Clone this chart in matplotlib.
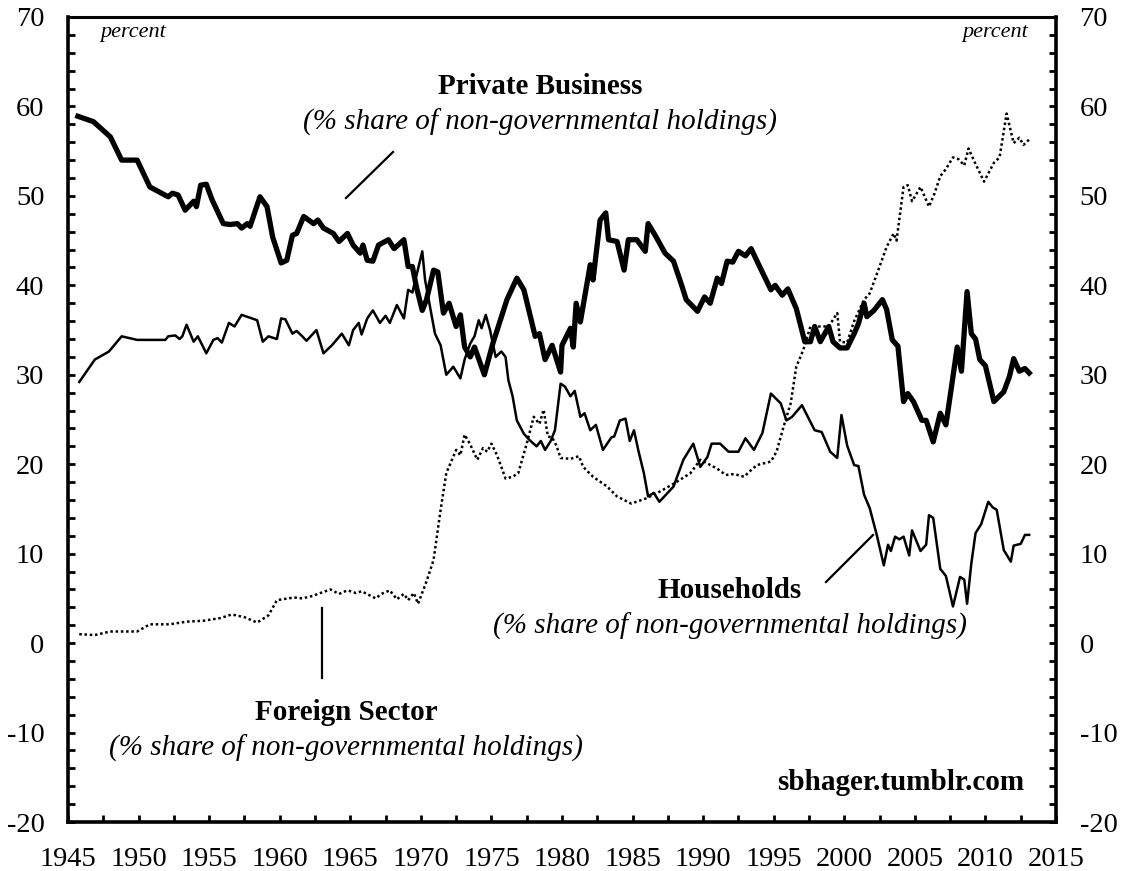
"""
Shares of non-governmental holdings of US federal debt, 1945-2013:
private business, households and the foreign sector.
"""

import matplotlib
matplotlib.use("Agg")
import matplotlib.pyplot as plt
from matplotlib.ticker import MultipleLocator


# Private business (% share of non-governmental holdings)
biz_years = [1945.7, 1946.8, 1948.0, 1948.8, 1949.9, 1950.8, 1952.1, 1952.4, 1952.8,
             1953.3, 1953.9, 1954.1, 1954.4, 1954.8, 1955.2, 1956.0, 1956.5, 1957.0,
             1957.3, 1957.7, 1957.9, 1958.6, 1959.1, 1959.5, 1960.1, 1960.5, 1960.9,
             1961.2, 1961.7, 1962.4, 1962.7, 1963.1, 1963.8, 1964.2, 1964.8, 1965.2,
             1965.7, 1965.9, 1966.2, 1966.6, 1967.0, 1967.7, 1968.1, 1968.8, 1969.1,
             1969.4, 1969.7, 1970.1, 1970.4, 1970.9, 1971.2, 1971.6, 1972.0, 1972.5,
             1972.8, 1973.1, 1973.5, 1973.8, 1974.5, 1975.1, 1976.1, 1976.8, 1977.3,
             1978.1, 1978.4, 1978.8, 1979.3, 1979.9, 1980.0, 1980.6, 1980.8, 1981.0,
             1981.3, 1982.0, 1982.2, 1982.7, 1983.1, 1983.3, 1983.9, 1984.4, 1984.7,
             1985.3, 1985.9, 1986.1, 1986.6, 1987.3, 1987.9, 1988.5, 1988.8, 1989.6,
             1990.1, 1990.5, 1991.0, 1991.3, 1991.7, 1992.1, 1992.5, 1993.0, 1993.4,
             1994.0, 1994.8, 1995.1, 1995.6, 1996.0, 1996.6, 1997.2, 1997.6, 1997.9,
             1998.3, 1998.9, 1999.2, 1999.7, 2000.2, 2000.7, 2001.0, 2001.4, 2001.6,
             2002.1, 2002.7, 2003.0, 2003.4, 2003.8, 2004.2, 2004.5, 2004.9, 2005.5,
             2005.8, 2006.3, 2006.8, 2007.2, 2007.6, 2008.0, 2008.3, 2008.7, 2009.0,
             2009.3, 2009.6, 2010.0, 2010.6, 2011.3, 2011.7, 2012.0, 2012.4, 2012.8,
             2013.1]
biz_share = [58.9, 58.3, 56.6, 54.0, 54.0, 51.0, 49.9, 50.3, 50.1,
             48.4, 49.4, 48.8, 51.2, 51.3, 49.6, 46.9, 46.8, 46.9,
             46.4, 46.9, 46.6, 49.9, 48.8, 45.4, 42.5, 42.8, 45.6,
             45.8, 47.7, 46.9, 47.3, 46.4, 45.8, 44.9, 45.8, 44.5,
             43.6, 44.5, 42.8, 42.7, 44.5, 45.1, 44.1, 45.1, 42.1,
             42.1, 39.7, 37.2, 38.4, 41.7, 41.5, 36.9, 38.0, 35.4,
             36.7, 33.1, 32.0, 33.1, 30.0, 33.5, 38.4, 40.8, 39.5,
             34.3, 34.6, 31.7, 33.3, 30.3, 33.3, 35.2, 33.1, 38.0,
             35.9, 42.3, 40.6, 47.3, 48.1, 45.1, 44.9, 41.7, 45.1,
             45.1, 43.8, 46.9, 45.6, 43.6, 42.7, 39.9, 38.4, 37.1,
             38.7, 38.0, 40.8, 40.2, 42.7, 42.6, 43.8, 43.3, 44.1,
             42.1, 39.5, 40.0, 38.9, 39.6, 37.4, 33.7, 33.7, 35.4,
             33.7, 35.4, 33.7, 33.0, 33.0, 34.6, 35.7, 38.0, 36.5,
             37.2, 38.4, 37.3, 33.9, 33.2, 27.0, 27.9, 27.0, 24.9,
             24.9, 22.5, 25.7, 24.4, 28.7, 33.1, 30.4, 39.3, 34.6,
             34.0, 31.7, 31.0, 27.0, 28.1, 29.8, 31.8, 30.4, 30.7,
             30.2]

# Households (% share of non-governmental holdings)
hh_years = [1945.8, 1946.9, 1947.9, 1948.8, 1949.9, 1951.9, 1952.1, 1952.6, 1952.9,
            1953.1, 1953.4, 1953.9, 1954.2, 1954.8, 1955.3, 1955.6, 1955.9, 1956.4,
            1956.8, 1957.3, 1958.4, 1958.8, 1959.2, 1959.8, 1960.1, 1960.4, 1960.9,
            1961.2, 1961.6, 1961.9, 1962.6, 1963.1, 1963.7, 1964.4, 1964.9, 1965.2,
            1965.6, 1965.8, 1966.2, 1966.6, 1967.1, 1967.5, 1967.8, 1968.3, 1968.8,
            1969.1, 1969.4, 1970.1, 1970.3, 1970.7, 1971.0, 1971.4, 1971.8, 1972.3,
            1972.8, 1973.1, 1973.5, 1973.8, 1974.1, 1974.3, 1974.6, 1974.9, 1975.3,
            1975.7, 1976.0, 1976.2, 1976.5, 1976.8, 1977.3, 1977.7, 1978.2, 1978.5,
            1978.8, 1979.2, 1979.5, 1979.9, 1980.2, 1980.6, 1980.9, 1981.3, 1981.6,
            1982.0, 1982.4, 1982.9, 1983.5, 1983.7, 1984.1, 1984.5, 1984.8, 1985.1,
            1985.4, 1985.8, 1986.1, 1986.5, 1986.9, 1987.9, 1988.6, 1989.3, 1989.8,
            1990.3, 1990.6, 1991.2, 1991.8, 1992.5, 1993.0, 1993.6, 1994.2, 1994.8,
            1995.5, 1995.9, 1996.3, 1997.0, 1997.9, 1998.4, 1999.0, 1999.5, 1999.8,
            2000.2, 2000.7, 2001.0, 2001.4, 2001.8, 2002.3, 2002.8, 2003.1, 2003.3,
            2003.6, 2003.9, 2004.2, 2004.6, 2004.8, 2005.4, 2005.8, 2006.0, 2006.3,
            2006.8, 2007.2, 2007.7, 2008.2, 2008.5, 2008.7, 2009.0, 2009.3, 2009.7,
            2010.2, 2010.5, 2010.8, 2011.3, 2011.8, 2012.0, 2012.5, 2012.8, 2013.1]
hh_share = [29.2, 31.7, 32.6, 34.3, 33.9, 33.9, 34.3, 34.4, 34.0,
            34.3, 35.6, 33.7, 34.3, 32.4, 33.9, 34.1, 33.6, 35.8,
            35.4, 36.7, 36.1, 33.7, 34.3, 34.0, 36.3, 36.2, 34.6,
            34.9, 34.3, 33.8, 35.0, 32.4, 33.3, 34.6, 33.3, 35.0,
            35.8, 34.5, 36.3, 37.2, 35.8, 36.6, 35.8, 37.8, 36.3,
            39.5, 39.2, 43.8, 40.6, 37.2, 34.6, 33.3, 30.0, 30.9,
            29.6, 31.7, 33.5, 34.3, 36.1, 35.2, 36.7, 35.0, 32.0,
            32.6, 32.0, 29.4, 27.6, 24.9, 23.4, 22.7, 22.0, 22.6,
            21.6, 22.6, 23.8, 29.0, 28.7, 27.6, 28.2, 25.3, 25.7,
            23.8, 24.4, 21.6, 23.0, 23.1, 24.9, 25.1, 22.6, 23.8,
            21.6, 19.0, 16.4, 16.8, 15.8, 17.5, 20.5, 22.3, 19.7,
            20.8, 22.3, 22.3, 21.4, 21.4, 22.9, 21.6, 23.5, 27.9,
            26.8, 24.9, 25.3, 26.6, 23.8, 23.6, 21.4, 20.7, 25.5,
            22.1, 19.9, 19.8, 16.6, 15.1, 12.1, 8.7, 11.0, 10.3,
            11.9, 11.6, 11.9, 9.8, 12.6, 10.3, 11.0, 14.3, 14.0,
            8.3, 7.5, 4.1, 7.4, 7.1, 4.4, 8.9, 12.3, 13.3,
            15.8, 15.2, 14.9, 10.4, 9.1, 10.9, 11.1, 12.1, 12.1]

# Foreign sector (% share of non-governmental holdings)
fs_years = [1945.8, 1946.9, 1948.0, 1949.9, 1950.8, 1952.2, 1953.4, 1954.6, 1955.8,
            1956.6, 1957.5, 1958.4, 1959.2, 1959.8, 1961.0, 1961.6, 1962.4, 1962.7,
            1963.6, 1964.2, 1964.8, 1965.4, 1965.8, 1966.8, 1967.2, 1967.8, 1968.3,
            1968.8, 1969.1, 1969.5, 1969.8, 1970.4, 1970.9, 1971.4, 1971.8, 1972.5,
            1972.8, 1973.1, 1973.5, 1974.0, 1974.4, 1974.7, 1975.0, 1975.4, 1976.0,
            1976.5, 1976.9, 1977.5, 1978.0, 1978.4, 1978.7, 1979.0, 1979.3, 1979.6,
            1979.9, 1980.6, 1981.2, 1981.5, 1982.2, 1983.2, 1983.9, 1984.9, 1986.0,
            1987.0, 1988.1, 1989.1, 1989.8, 1990.4, 1991.0, 1991.6, 1992.2, 1992.9,
            1993.3, 1993.8, 1994.8, 1995.2, 1995.7, 1996.2, 1996.6, 1997.1, 1997.6,
            1998.3, 1998.9, 1999.5, 1999.7, 2000.2, 2000.7, 2001.4, 2001.8, 2002.5,
            2003.0, 2003.5, 2003.7, 2004.2, 2004.5, 2004.8, 2005.4, 2006.0, 2006.4,
            2006.8, 2007.2, 2007.7, 2008.1, 2008.5, 2008.8, 2009.2, 2009.9, 2010.6,
            2011.0, 2011.5, 2012.0, 2012.4, 2012.7, 2013.1]
fs_share = [1.0, 0.9, 1.3, 1.3, 2.1, 2.1, 2.4, 2.5, 2.8,
            3.2, 2.9, 2.3, 3.1, 4.8, 5.1, 5.0, 5.3, 5.5,
            6.0, 5.5, 5.9, 5.6, 5.8, 5.0, 5.5, 5.9, 4.9,
            5.5, 4.8, 5.6, 4.4, 6.9, 9.3, 14.9, 19.0, 21.6,
            21.0, 23.3, 22.2, 20.5, 21.8, 21.4, 22.3, 21.0, 18.4,
            18.6, 19.0, 22.3, 25.3, 24.5, 26.1, 23.1, 23.0, 22.1,
            20.7, 20.6, 20.9, 19.7, 18.6, 17.5, 16.4, 15.6, 16.2,
            17.0, 18.0, 19.0, 20.5, 20.0, 19.5, 18.8, 18.9, 18.6,
            19.2, 19.9, 20.3, 21.4, 24.2, 26.8, 30.9, 32.8, 35.4,
            35.4, 35.4, 36.9, 33.7, 33.6, 36.0, 38.4, 39.1, 42.1,
            44.3, 45.8, 45.0, 51.0, 51.2, 49.4, 51.0, 48.8, 50.3,
            52.2, 53.0, 54.3, 54.1, 53.4, 55.3, 53.9, 51.6, 53.7,
            54.3, 59.2, 55.9, 56.5, 55.7, 56.3]

SERIF = ["Liberation Serif", "DejaVu Serif"]
plt.rcParams["axes.unicode_minus"] = False   # plain hyphen, as in the original


def style_axes(ax):
    """Excel-like frame: thick spines, inward ticks on both y sides."""
    for side in ax.spines.values():
        side.set_linewidth(2.6)
    ax.spines["top"].set_linewidth(2.2)

    ax.set_xlim(1945, 2015)
    ax.set_ylim(-20, 70)
    ax.xaxis.set_major_locator(MultipleLocator(5))
    ax.xaxis.set_minor_locator(MultipleLocator(2.5))
    ax.yaxis.set_major_locator(MultipleLocator(10))
    ax.yaxis.set_minor_locator(MultipleLocator(2))

    for which in ("major", "minor"):
        ax.tick_params(axis="x", which=which, direction="in", length=5, width=2,
                       top=False, pad=18)
        ax.tick_params(axis="y", which=which, direction="in", length=5, width=2,
                       left=True, right=True, pad=17)
    ax.tick_params(which="major", labelsize=20.5)
    ax.yaxis.set_tick_params(labelright=True)
    for lab in ax.get_xticklabels() + ax.get_yticklabels(which="both"):
        lab.set_fontfamily(SERIF)
    for lab in ax.yaxis.get_ticklabels():
        lab.set_fontfamily(SERIF)


def add_labels(ax):
    """Series names, pointer lines and the footer credit."""
    fig = ax.figure
    W, H = fig.get_size_inches() * fig.dpi

    def px(x, y):
        return (x / W, 1 - y / H)

    bold = dict(fontsize=21, fontweight="bold", family=SERIF, ha="center", va="center")
    ital = dict(fontsize=21, fontstyle="italic", family=SERIF, ha="center", va="center")
    sub = "(% share of non-governmental holdings)"

    fig.text(*px(540, 86), "Private Business", **bold)
    fig.text(*px(540, 122), sub, **ital)
    fig.text(*px(730, 590), "Households", **bold)
    fig.text(*px(730, 626), sub, **ital)
    fig.text(*px(346, 712), "Foreign Sector", **bold)
    fig.text(*px(346, 748), sub, **ital)

    fig.text(*px(133, 33), "percent", fontsize=16, fontstyle="italic", family=SERIF,
             ha="center", va="center")
    fig.text(*px(995, 33), "percent", fontsize=16, fontstyle="italic", family=SERIF,
             ha="center", va="center")
    fig.text(*px(1024, 783), "sbhager.tumblr.com", fontsize=21, fontweight="bold",
             family=SERIF, ha="right", va="center")

    # pointer lines from labels to the curves
    for (x0, y0), (x1, y1) in [((393, 152), (346, 198)),
                               ((826, 582), (873, 535)),
                               ((322, 608), (322, 678))]:
        a, b = px(x0, y0)
        c, d = px(x1, y1)
        fig.add_artist(plt.Line2D([a, c], [b, d], color="black", lw=1.6,
                                  transform=fig.transFigure))


def main():
    fig = plt.figure(figsize=(11.28, 8.71), dpi=100)
    ax = fig.add_axes([68 / 1128, 1 - 822 / 871, (1056 - 68) / 1128, (822 - 17) / 871])

    ax.plot(fs_years, fs_share, color="black", lw=1.8, linestyle=(0, (1, 1.1)))
    ax.plot(hh_years, hh_share, color="black", lw=1.8)
    ax.plot(biz_years, biz_share, color="black", lw=3.8, solid_joinstyle="round")

    style_axes(ax)
    add_labels(ax)

    fig.savefig("out.png", dpi=100)


if __name__ == "__main__":
    main()
